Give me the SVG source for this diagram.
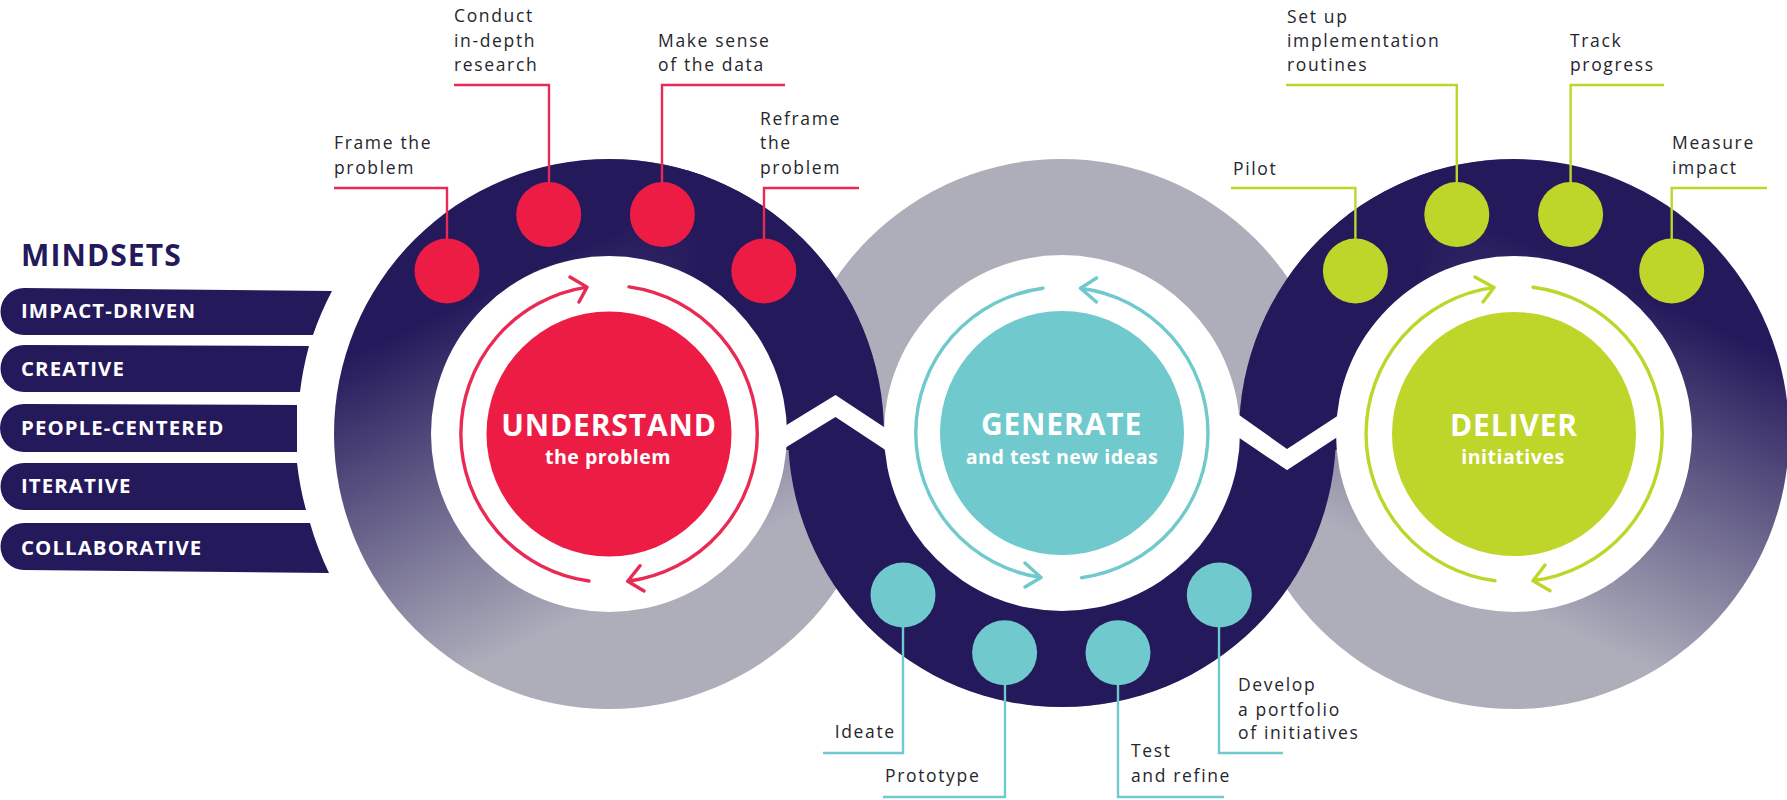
<svg xmlns="http://www.w3.org/2000/svg" width="1787" height="800" viewBox="0 0 1787 800">
<style>
.lbl{font-family:"Open Sans","Noto Sans","Liberation Sans",sans-serif;font-size:17.5px;letter-spacing:1.65px;fill:#26262e}
.bar{fill:#24195b}
.bt{font-family:"Open Sans","Noto Sans","Liberation Sans",sans-serif;font-size:20.4px;font-weight:700;letter-spacing:1.1px;fill:#fff}
.h1{font-family:"Open Sans","Noto Sans","Liberation Sans",sans-serif;font-size:30px;font-weight:700;letter-spacing:.85px;fill:#fff;text-anchor:middle}
.h2{font-family:"Open Sans","Noto Sans","Liberation Sans",sans-serif;font-size:19.6px;font-weight:700;letter-spacing:.5px;fill:#fff;text-anchor:middle}
.rd{stroke:#e92a55}.cy{stroke:#6fc9cd}.lm{stroke:#bed62a}
.ld{fill:none;stroke-width:2.4}
.ar{fill:none;stroke-width:3.4;stroke-linecap:round;stroke-linejoin:round}
</style>
<defs>
<linearGradient id="gl" gradientUnits="userSpaceOnUse" x1="200" y1="425" x2="343" y2="731"><stop offset="0" stop-color="#24195b"/><stop offset="1" stop-color="#aeaebb"/></linearGradient>
<linearGradient id="gr" gradientUnits="userSpaceOnUse" x1="1699" y1="319" x2="1559" y2="630"><stop offset="0" stop-color="#24195b"/><stop offset="1" stop-color="#aeaebb"/></linearGradient>
<linearGradient id="nl" gradientUnits="userSpaceOnUse" x1="590" y1="0" x2="700" y2="0"><stop offset="0" stop-color="#24195b" stop-opacity="0"/><stop offset="1" stop-color="#24195b"/></linearGradient>
<linearGradient id="nr" gradientUnits="userSpaceOnUse" x1="1526" y1="0" x2="1416" y2="0"><stop offset="0" stop-color="#24195b" stop-opacity="0"/><stop offset="1" stop-color="#24195b"/></linearGradient>
<clipPath id="topc"><rect x="0" y="0" width="1787" height="450"/></clipPath>
<clipPath id="midc"><polygon points="780,451 835.5,417 890,453 1232,433 1287,470 1342,434 1342,800 780,800"/></clipPath>
</defs>
<rect width="1787" height="800" fill="#fff"/>

<g id="rings">
<circle cx="1062" cy="433" r="274" fill="#aeaebb"/>
<circle cx="609" cy="434" r="275" fill="url(#gl)"/>
<circle cx="609" cy="434" r="275" fill="url(#nl)" clip-path="url(#topc)"/>
<circle cx="1514" cy="434" r="275" fill="url(#gr)"/>
<circle cx="1514" cy="434" r="275" fill="url(#nr)" clip-path="url(#topc)"/>
<circle cx="1062" cy="433" r="274" fill="#24195b" clip-path="url(#midc)"/>
<circle cx="609" cy="434" r="178" fill="#fff"/>
<circle cx="1062" cy="433" r="178" fill="#fff"/>
<circle cx="1514" cy="434" r="178" fill="#fff"/>
<polygon fill="#fff" points="780,429 835.5,395 890,431 890,453 835.5,417 780,451"/>
<polygon fill="#fff" points="1232,410 1287,449 1342,413 1342,434 1287,470 1232,433"/>
</g>

<g id="connectors">
<path class="ld rd" d="M334 188H447V245"/>
<path class="ld rd" d="M454 85H549V190"/>
<path class="ld rd" d="M785 85H662V190"/>
<path class="ld rd" d="M859 188H764V245"/>
<path class="ld cy" d="M823 753H903V620"/>
<path class="ld cy" d="M883 797H1005V680"/>
<path class="ld cy" d="M1224 797H1118V680"/>
<path class="ld cy" d="M1283 753H1219V620"/>
<path class="ld lm" d="M1231 188H1355.4V245"/>
<path class="ld lm" d="M1286 85H1456.8V190"/>
<path class="ld lm" d="M1664 85H1570.6V190"/>
<path class="ld lm" d="M1767 188H1671.7V245"/>
</g>

<g id="understand">
<circle cx="609" cy="434" r="122.5" fill="#ed1c45"/>
<path class="ar rd" d="M589 581A148.5 148.5 0 0 1 587 287.1M570 277L587 287.1L579 302"/>
<path class="ar rd" d="M629 286.9A148.5 148.5 0 0 1 627.7 581.3M640 565.7L627.7 581.3L644 591"/>
<text class="h1" x="609" y="436">UNDERSTAND</text>
<text class="h2" x="608" y="464">the problem</text>
</g>
<g id="generate">
<circle cx="1062" cy="433" r="122" fill="#6fc9cd"/>
<path class="ar cy" d="M1043 288.2A146 146 0 0 0 1041 577.5M1025 563L1041 577.5L1025 587"/>
<path class="ar cy" d="M1081.6 577.7A146 146 0 0 0 1080.5 288.2M1096.5 302L1080.5 288.2L1096.5 278"/>
<text class="h1" x="1061.5" y="435">GENERATE</text>
<text class="h2" x="1062" y="464">and test new ideas</text>
</g>
<g id="deliver">
<circle cx="1514" cy="434" r="122" fill="#bed62a"/>
<path class="ar lm" d="M1495 580.8A148 148 0 0 1 1494 287.4M1475 277L1494 287.4L1483 302"/>
<path class="ar lm" d="M1533 287.2A148 148 0 0 1 1533 580.8M1545 565L1533 580.8L1550 590.7"/>
<text class="h1" x="1514" y="436">DELIVER</text>
<text class="h2" x="1513" y="464">initiatives</text>
</g>

<g id="step-frame"><circle cx="447" cy="271" r="32.5" fill="#ed1c45"/><text class="lbl" x="334" y="149">Frame the</text><text class="lbl" x="334" y="174">problem</text></g>
<g id="step-research"><circle cx="548.7" cy="214.5" r="32.5" fill="#ed1c45"/><text class="lbl" x="454" y="22">Conduct</text><text class="lbl" x="454" y="47">in-depth</text><text class="lbl" x="454" y="71">research</text></g>
<g id="step-sense"><circle cx="662.4" cy="214.5" r="32.5" fill="#ed1c45"/><text class="lbl" x="658" y="47">Make sense</text><text class="lbl" x="658" y="71">of the data</text></g>
<g id="step-reframe"><circle cx="763.8" cy="271" r="32.5" fill="#ed1c45"/><text class="lbl" x="760" y="125">Reframe</text><text class="lbl" x="760" y="149">the</text><text class="lbl" x="760" y="174">problem</text></g>

<g id="step-ideate"><circle cx="903" cy="595" r="32.5" fill="#6fc9cd"/><text class="lbl" x="834.7" y="738">Ideate</text></g>
<g id="step-prototype"><circle cx="1004.6" cy="652.7" r="32.5" fill="#6fc9cd"/><text class="lbl" x="885" y="782">Prototype</text></g>
<g id="step-test"><circle cx="1118" cy="652.7" r="32.5" fill="#6fc9cd"/><text class="lbl" x="1131" y="757">Test</text><text class="lbl" x="1131" y="782">and refine</text></g>
<g id="step-portfolio"><circle cx="1219.3" cy="595" r="32.5" fill="#6fc9cd"/><text class="lbl" x="1238" y="691">Develop</text><text class="lbl" x="1238" y="716">a portfolio</text><text class="lbl" x="1238" y="739">of initiatives</text></g>

<g id="step-pilot"><circle cx="1355.4" cy="271" r="32.5" fill="#bed62a"/><text class="lbl" x="1233" y="175">Pilot</text></g>
<g id="step-routines"><circle cx="1456.8" cy="214.5" r="32.5" fill="#bed62a"/><text class="lbl" x="1287" y="22.5">Set up</text><text class="lbl" x="1287" y="47">implementation</text><text class="lbl" x="1287" y="71">routines</text></g>
<g id="step-track"><circle cx="1570.6" cy="214.5" r="32.5" fill="#bed62a"/><text class="lbl" x="1570" y="47">Track</text><text class="lbl" x="1570" y="71">progress</text></g>
<g id="step-measure"><circle cx="1671.7" cy="271" r="32.5" fill="#bed62a"/><text class="lbl" x="1672" y="149">Measure</text><text class="lbl" x="1672" y="174">impact</text></g>

<g id="mindsets">
<text x="21" y="265.5" font-family="'Open Sans','Noto Sans','Liberation Sans',sans-serif" font-size="30" font-weight="700" letter-spacing="1.1" fill="#24195b">MINDSETS</text>
<g id="m1"><path class="bar" d="M24 288L332 291A310 310 0 0 0 313 335L24 335A23.5 23.5 0 0 1 24 288Z"/><text class="bt" x="21" y="318">IMPACT-DRIVEN</text></g>
<g id="m2"><path class="bar" d="M24 345L309 346A310 310 0 0 0 300 392L24 392A23.5 23.5 0 0 1 24 345Z"/><text class="bt" x="21" y="375.5">CREATIVE</text></g>
<g id="m3"><path class="bar" d="M24 404L297 405L297 452L24 452A24 24 0 0 1 24 404Z"/><text class="bt" x="21" y="435">PEOPLE-CENTERED</text></g>
<g id="m4"><path class="bar" d="M24 463L297 463A310 310 0 0 0 306 510L24 510A23.5 23.5 0 0 1 24 463Z"/><text class="bt" x="21" y="493">ITERATIVE</text></g>
<g id="m5"><path class="bar" d="M24 523L310 523A310 310 0 0 0 329 573L24 570A23.5 23.5 0 0 1 24 523Z"/><text class="bt" x="21" y="555">COLLABORATIVE</text></g>
</g>
</svg>
